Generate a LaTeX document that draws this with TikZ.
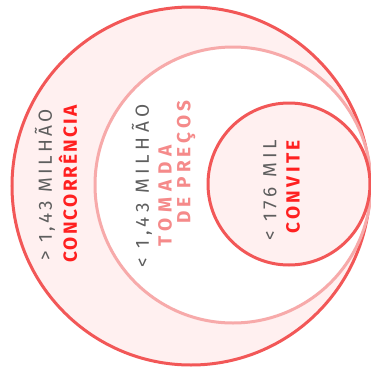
\documentclass[tikz,border=0pt]{standalone}
\usepackage{fontspec}
\setmainfont{Fira Sans}
\definecolor{ringred}{HTML}{F25757}
\definecolor{ringpink}{HTML}{F7AAAA}
\definecolor{fillpink}{HTML}{FFF0F0}
\definecolor{txtgray}{HTML}{5E5E5E}
\definecolor{txtred}{HTML}{FF2020}
\definecolor{txtpink}{HTML}{F58A8A}
\tikzset{
  ring/.style={line width=3pt},
  lbl/.style={rotate=90, inner sep=0pt, font=\fontsize{19}{22}\selectfont\addfontfeature{LetterSpace=#1}},
  lblb/.style={rotate=90, inner sep=0pt, font=\fontsize{19}{22}\selectfont\bfseries\addfontfeature{LetterSpace=#1}},
}
\begin{document}
\begin{tikzpicture}[x=1pt,y=-1pt]
\useasboundingbox (0,0) rectangle (371,373);
\begin{scope}
\clip (0,0) rectangle (371,373);
\draw[ring, draw=ringred, fill=fillpink] (191,186) circle (179);
\draw[ring, draw=ringpink, fill=white] (233,185) circle (138);
\draw[ring, draw=ringred, fill=fillpink] (289,184) circle (81);
\end{scope}
\node[lbl=18, text=txtgray] (a1) at (45,185) {> 1,43 MILHÃO};
\node[lblb=11.5, text=txtred] (a2) at (68,184) {CONCORRÊNCIA};
\node[lbl=24, text=txtgray] (b1) at (142,186) {< 1,43 MILHÃO};
\node[lblb=30, text=txtpink] (b2) at (165,196) {TOMADA};
\node[lblb=22, text=txtpink] (b3) at (186,162) {DE PREÇOS};
\node[lbl=22, text=txtgray] (c1) at (270,190) {< 176 MIL};
\node[lblb=18, text=txtred] (c2) at (293,187) {CONVITE};
\end{tikzpicture}
\end{document}
